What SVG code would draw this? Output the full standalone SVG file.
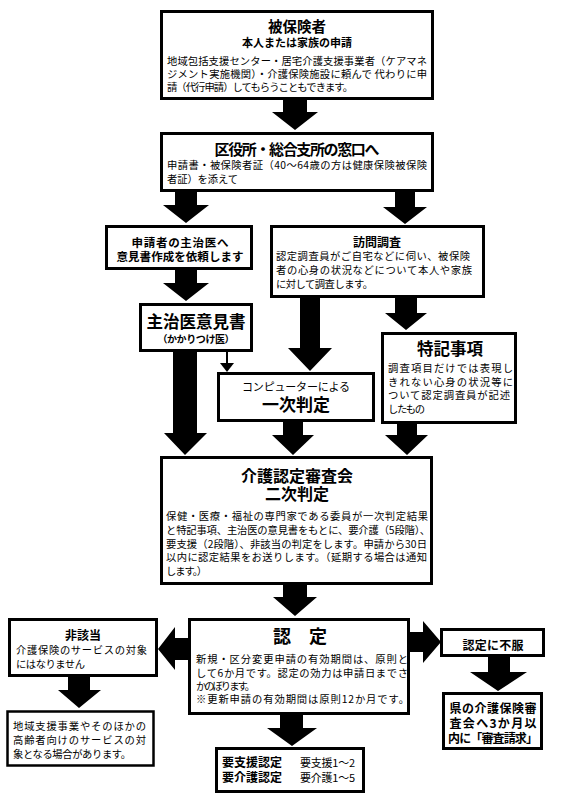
<svg xmlns="http://www.w3.org/2000/svg" width="567" height="800" viewBox="0 0 567 800">
<style>
text{font-family:"Noto Sans CJK JP","Liberation Sans",sans-serif;fill:#000}
.box{fill:#fff;stroke:#000;stroke-width:3}
.t{font-weight:bold;text-anchor:middle}
.b{font-size:10.3px;fill:#000}
.arr{fill:#000}
</style>
<rect width="567" height="800" fill="#fff"/>
<g id="connectors">
<polygon class="arr" points="283,99 307,99 307,112 318,112 295,130 272,112 283,112"/>
<polygon class="arr" points="175,191 197,191 197,205 209,205 186,223 163,205 175,205"/>
<polygon class="arr" points="395,191 415,191 415,207 427,207 405,224 383,207 395,207"/>
<polygon class="arr" points="175,269 197,269 197,283 209,283 186,301 163,283 175,283"/>
<polygon class="arr" points="173,351 197,351 197,433 207,433 185,455 164,433 173,433"/>
<line x1="227" y1="351" x2="227" y2="364" stroke="#000" stroke-width="2"/>
<polygon class="arr" points="220,363 234,363 227,372"/>
<polygon class="arr" points="300,297 320,297 320,348 332,348 310,371 288,348 300,348"/>
<polygon class="arr" points="395,297 417,297 417,313 427,313 406,330 385,313 395,313"/>
<polygon class="arr" points="283,421 303,421 303,435 314,435 293,455 272,435 283,435"/>
<polygon class="arr" points="397,423 417,423 417,435 428,435 407,455 385,435 397,435"/>
<polygon class="arr" points="283,584 307,584 307,597 317,597 295,616 273,597 283,597"/>
<polygon class="arr" points="189,638 175,638 175,627 158,649 175,670 175,660 189,660"/>
<polygon class="arr" points="68,676 90,676 90,690 101,690 79,708 58,690 68,690"/>
<polygon class="arr" points="409,632 423,632 423,621 441,642 423,663 423,652 409,652"/>
<polygon class="arr" points="488,656 510,656 510,672 527,672 498,691 470,672 488,672"/>
<polygon class="arr" points="280,714 303,714 303,728 317,728 292,746 267,728 280,728"/>
</g>
<g id="n1">
<rect class="box" x="161.5" y="11.5" width="271" height="87"/>
<text class="t" x="297" y="32" font-size="14.5">被保険者</text>
<text class="t" x="297" y="47" font-size="11">本人または家族の申請</text>
<text class="b" x="167" y="65" textLength="260">地域包括支援センター・居宅介護支援事業者（ケアマネ</text>
<text class="b" x="167" y="78" textLength="260">ジメント実施機関）・介護保険施設に頼んで 代わりに申</text>
<text class="b" x="167" y="91" textLength="186">請（代行申請）してもらうこともできます。</text>
</g>
<g id="n2">
<rect class="box" x="161.5" y="133.5" width="271" height="57"/>
<text class="t" x="297" y="155" font-size="15" textLength="165">区役所・総合支所の窓口へ</text>
<text class="b" x="167" y="169" textLength="260">申請書・被保険者証（40～64歳の方は健康保険被保険</text>
<text class="b" x="167" y="183" textLength="71">者証）を添えて</text>
</g>
<g id="n3">
<rect class="box" x="106.5" y="226.5" width="145" height="42"/>
<text class="t" x="180" y="247" font-size="11.5" textLength="97">申請者の主治医へ</text>
<text class="t" x="180" y="261" font-size="11.5" textLength="127">意見書作成を依頼します</text>
</g>
<g id="n4">
<rect class="box" x="271.5" y="226.5" width="212" height="70"/>
<text class="t" x="377" y="247" font-size="12">訪問調査</text>
<text class="b" x="276" y="260" textLength="194">認定調査員がご自宅などに伺い、被保険</text>
<text class="b" x="276" y="274" textLength="196">者の心身の状況などについて本人や家族</text>
<text class="b" x="276" y="288" textLength="97">に対して調査します。</text>
</g>
<g id="n5">
<rect class="box" x="140.5" y="304.5" width="111" height="46"/>
<text class="t" x="196" y="328" font-size="16.5">主治医意見書</text>
<text class="t" x="196" y="343" font-size="10" textLength="77">（かかりつけ医）</text>
</g>
<g id="n6">
<rect class="box" x="218.5" y="373.5" width="155" height="47"/>
<text x="296" y="391" font-size="11" text-anchor="middle" textLength="108">コンピューターによる</text>
<text class="t" x="296" y="411" font-size="17">一次判定</text>
</g>
<g id="n7">
<rect class="box" x="382.5" y="333.5" width="133" height="89"/>
<text class="t" x="450" y="355" font-size="16.5">特記事項</text>
<text class="b" x="388" y="372" textLength="125">調査項目だけでは表現し</text>
<text class="b" x="388" y="386" textLength="125">きれない心身の状況等に</text>
<text class="b" x="388" y="399" textLength="122">ついて認定調査員が記述</text>
<text class="b" x="388" y="413" textLength="37">したもの</text>
</g>
<g id="n8">
<rect class="box" x="161.5" y="457.5" width="270" height="126"/>
<text class="t" x="297" y="482" font-size="16">介護認定審査会</text>
<text class="t" x="297" y="500" font-size="16">二次判定</text>
<text class="b" x="166" y="520" textLength="262">保健・医療・福祉の専門家である委員が一次判定結果</text>
<text class="b" x="166" y="534" textLength="264">と特記事項、主治医の意見書をもとに、要介護（5段階）、</text>
<text class="b" x="166" y="548" textLength="261">要支援（2段階）、非該当の判定をします。申請から30日</text>
<text class="b" x="166" y="561" textLength="261">以内に認定結果をお送りします。（延期する場合は通知</text>
<text class="b" x="166" y="575" textLength="41">します。）</text>
</g>
<g id="n9">
<rect class="box" x="189.5" y="619.5" width="219" height="94"/>
<text class="t" x="300" y="643" font-size="18">認　定</text>
<text class="b" x="196" y="663" textLength="212">新規・区分変更申請の有効期間は、原則と</text>
<text class="b" x="196" y="677" textLength="212">して6か月です。認定の効力は申請日までさ</text>
<text class="b" x="196" y="690" textLength="59">かのぼります。</text>
<text class="b" x="196" y="703" textLength="213">※更新申請の有効期間は原則12か月です。</text>
</g>
<g id="n10">
<rect class="box" x="9.5" y="619.5" width="147" height="56"/>
<text class="t" x="83" y="640" font-size="12">非該当</text>
<text class="b" x="16" y="654" textLength="131">介護保険のサービスの対象</text>
<text class="b" x="16" y="668" textLength="69">にはなりません</text>
</g>
<g id="n11">
<rect class="box" x="7.5" y="711.5" width="146" height="54" style="stroke-width:2.5"/>
<text class="b" x="13" y="730" textLength="133">地域支援事業やそのほかの</text>
<text class="b" x="13" y="744" textLength="133">高齢者向けのサービスの対</text>
<text class="b" x="13" y="758" textLength="118">象となる場合があります。</text>
</g>
<g id="n12">
<rect class="box" x="441.5" y="629.5" width="102" height="26"/>
<text class="t" x="493" y="650" font-size="12" textLength="61">認定に不服</text>
</g>
<g id="n13">
<rect class="box" x="443.5" y="693.5" width="98" height="55"/>
<text class="t" x="493" y="713" font-size="12" textLength="87">県の介護保険審</text>
<text class="t" x="493" y="728" font-size="12" textLength="87">査会へ3か月以</text>
<text class="t" x="493" y="743" font-size="12" textLength="90">内に「審査請求」</text>
</g>
<g id="n14">
<rect class="box" x="216.5" y="748.5" width="147" height="43"/>
<text x="222" y="767" font-size="12" font-weight="bold" textLength="60">要支援認定</text>
<text x="300" y="767" font-size="11" textLength="55">要支援1～2</text>
<text x="222" y="782" font-size="12" font-weight="bold" textLength="60">要介護認定</text>
<text x="300" y="782" font-size="11" textLength="55">要介護1～5</text>
</g>
</svg>
